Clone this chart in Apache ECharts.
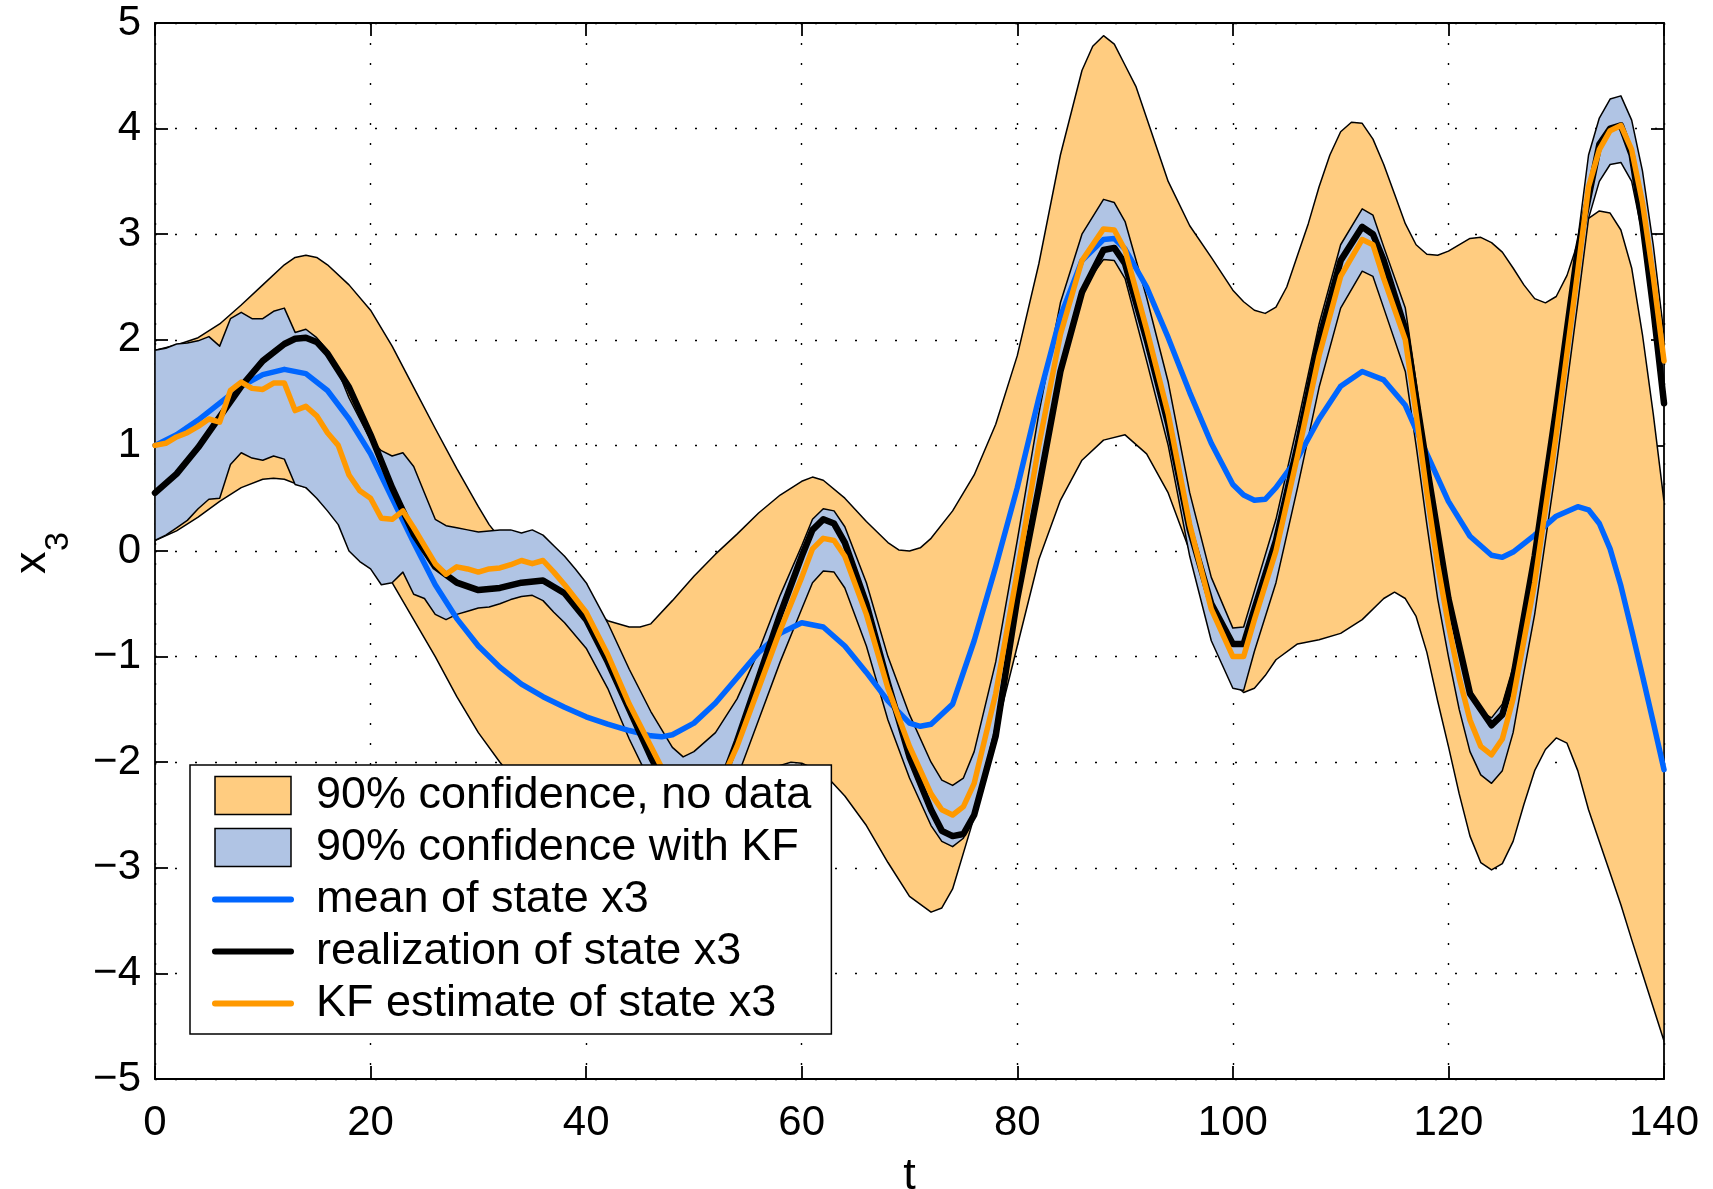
<!DOCTYPE html>
<html>
<head>
<meta charset="utf-8">
<title>x3: KF estimate vs prior</title>
<script src="https://cdn.jsdelivr.net/npm/echarts@6/dist/echarts.min.js"></script>
<style>
  html, body { margin: 0; padding: 0; background: #fff; }
  #chart { width: 1713px; height: 1189px; }
</style>
</head>
<body>
<div id="chart"></div>
<script>
const FONT = '"Liberation Sans", Arial, Helvetica, sans-serif';

// axis ticks
const xTicks = [0, 20, 40, 60, 80, 100, 120, 140];
const yTicks = [-5, -4, -3, -2, -1, 0, 1, 2, 3, 4, 5];

const legendNames = [
  '90% confidence, no data',
  '90% confidence with KF',
  'mean of state x3',
  'realization of state x3',
  'KF estimate of state x3'
];

// 90% band without data, [t, value]
const noDataUpper = [[0,1.90],[2,1.95],[4,2.02],[6,2.15],[8,2.33],[10,2.52],[12,2.71],[13,2.78],[14,2.80],[15,2.78],[16,2.71],[18,2.52],[20,2.28],[22,1.94],[24,1.55],[26,1.16],[28,0.78],[30,0.42],[31,0.25],[32,0.12],[34,0.0],[36,-0.12],[38,-0.32],[40,-0.52],[42,-0.66],[44,-0.72],[45,-0.72],[46,-0.69],[48,-0.47],[50,-0.24],[52,-0.03],[54,0.16],[56,0.36],[58,0.53],[60,0.66],[61,0.70],[62,0.67],[64,0.50],[66,0.28],[68,0.08],[69,0.01],[70,0.0],[71,0.03],[72,0.12],[74,0.38],[76,0.72],[78,1.2],[80,1.85],[82,2.72],[84,3.75],[86,4.55],[87,4.78],[88,4.88],[89,4.8],[90,4.6],[91,4.4],[92,4.1],[93,3.8],[94,3.5],[96,3.08],[98,2.78],[100,2.47],[101,2.36],[102,2.28],[103,2.25],[104,2.31],[105,2.5],[106,2.8],[107,3.1],[108,3.45],[109,3.75],[110,3.97],[111,4.06],[112,4.05],[113,3.9],[114,3.66],[115,3.38],[116,3.1],[117,2.9],[118,2.81],[119,2.80],[120,2.84],[122,2.96],[123,2.97],[124,2.92],[125,2.83],[126,2.68],[127,2.52],[128,2.39],[129,2.35],[130,2.41],[131,2.61],[132,2.92],[133,3.15],[134,3.22],[135,3.2],[136,3.04],[137,2.68],[138,2.05],[139,1.3],[140,0.47]];
const noDataLower = [[0,0.10],[2,0.19],[4,0.32],[6,0.47],[8,0.60],[10,0.68],[11,0.69],[12,0.68],[14,0.60],[16,0.45],[18,0.24],[20,-0.02],[22,-0.3],[24,-0.65],[26,-1.0],[28,-1.38],[30,-1.72],[32,-2.0],[34,-2.25],[36,-2.48],[38,-2.62],[40,-2.7],[42,-2.72],[44,-2.75],[46,-2.8],[48,-2.85],[50,-2.8],[52,-2.62],[54,-2.37],[56,-2.15],[58,-2.03],[59,-2.0],[60,-2.01],[62,-2.1],[64,-2.32],[66,-2.6],[68,-2.95],[70,-3.27],[72,-3.42],[73,-3.38],[74,-3.2],[76,-2.52],[78,-1.72],[80,-0.9],[82,-0.08],[84,0.48],[86,0.86],[88,1.05],[90,1.1],[92,0.92],[94,0.55],[96,0.0],[98,-0.55],[99,-0.95],[100,-1.25],[101,-1.34],[102,-1.3],[103,-1.18],[104,-1.03],[106,-0.88],[108,-0.84],[110,-0.78],[112,-0.65],[114,-0.45],[115,-0.39],[116,-0.45],[117,-0.62],[118,-0.96],[119,-1.42],[120,-1.85],[121,-2.3],[122,-2.7],[123,-2.95],[124,-3.02],[125,-2.96],[126,-2.75],[127,-2.4],[128,-2.08],[129,-1.88],[130,-1.77],[131,-1.82],[132,-2.08],[133,-2.45],[134,-2.75],[135,-3.05],[136,-3.35],[137,-3.68],[138,-4.0],[139,-4.32],[140,-4.64]];

// 90% band with Kalman filter
const kfUpper = [[0,1.9],[1,1.92],[2,1.96],[3,1.97],[4,1.99],[5,2.03],[6,1.94],[7,2.2],[8,2.26],[9,2.2],[10,2.2],[11,2.27],[12,2.3],[13,2.07],[14,2.1],[15,2.02],[16,1.9],[17,1.7],[18,1.45],[19,1.25],[20,1.05],[21,0.95],[22,0.9],[23,0.93],[24,0.8],[25,0.55],[26,0.3],[27,0.24],[28,0.22],[29,0.2],[30,0.18],[31,0.19],[32,0.2],[33,0.2],[34,0.17],[35,0.2],[36,0.15],[37,0.05],[38,-0.05],[39,-0.17],[40,-0.3],[42,-0.68],[44,-1.12],[46,-1.52],[48,-1.86],[49,-1.95],[50,-1.9],[52,-1.72],[54,-1.4],[56,-0.95],[58,-0.42],[60,0.05],[61,0.3],[62,0.4],[63,0.38],[64,0.23],[66,-0.3],[68,-1.0],[70,-1.55],[72,-2.0],[73,-2.17],[74,-2.22],[75,-2.15],[76,-1.9],[78,-1.05],[80,0.1],[82,1.3],[84,2.35],[86,3.0],[88,3.33],[89,3.3],[90,3.12],[92,2.4],[94,1.6],[96,0.55],[98,-0.25],[100,-0.73],[101,-0.72],[102,-0.38],[104,0.3],[106,1.2],[108,2.15],[110,2.9],[112,3.24],[113,3.18],[114,2.88],[116,2.3],[117,1.6],[118,0.85],[119,0.15],[120,-0.4],[121,-0.9],[122,-1.3],[123,-1.52],[124,-1.58],[125,-1.45],[126,-1.1],[127,-0.55],[128,0.0],[130,1.4],[132,2.95],[133,3.75],[134,4.1],[135,4.28],[136,4.31],[137,4.08],[138,3.6],[139,2.9],[140,2.05]];
const kfLower = [[0,0.1],[1,0.15],[2,0.22],[3,0.29],[4,0.4],[5,0.49],[6,0.5],[7,0.82],[8,0.93],[9,0.88],[10,0.86],[11,0.9],[12,0.87],[13,0.63],[14,0.6],[15,0.5],[16,0.38],[17,0.25],[18,0.0],[19,-0.1],[20,-0.17],[21,-0.32],[22,-0.3],[23,-0.2],[24,-0.41],[25,-0.45],[26,-0.6],[27,-0.65],[28,-0.6],[29,-0.57],[30,-0.54],[31,-0.53],[32,-0.5],[33,-0.46],[34,-0.43],[35,-0.42],[36,-0.47],[37,-0.58],[38,-0.68],[39,-0.8],[40,-0.92],[42,-1.3],[44,-1.78],[46,-2.2],[48,-2.6],[50,-2.78],[52,-2.62],[54,-2.15],[56,-1.6],[58,-1.05],[60,-0.55],[61,-0.3],[62,-0.19],[63,-0.2],[64,-0.35],[66,-0.9],[68,-1.6],[70,-2.15],[72,-2.6],[73,-2.75],[74,-2.8],[75,-2.72],[76,-2.5],[78,-1.65],[80,-0.5],[82,0.7],[84,1.75],[86,2.48],[88,2.76],[89,2.75],[90,2.58],[92,1.8],[94,1.0],[96,-0.05],[98,-0.85],[100,-1.3],[101,-1.32],[102,-0.95],[104,-0.3],[106,0.6],[108,1.55],[110,2.3],[112,2.65],[113,2.6],[114,2.3],[116,1.7],[117,1.0],[118,0.25],[119,-0.45],[120,-1.0],[121,-1.5],[122,-1.9],[123,-2.12],[124,-2.2],[125,-2.08],[126,-1.72],[127,-1.15],[128,-0.6],[130,0.8],[132,2.35],[133,3.15],[134,3.5],[135,3.66],[136,3.68],[137,3.5],[138,3.0],[139,2.3],[140,1.45]];

// lines
const meanX3 = [[0,1.0],[2,1.1],[4,1.24],[6,1.4],[8,1.56],[10,1.67],[12,1.72],[14,1.68],[16,1.52],[18,1.25],[20,0.92],[22,0.5],[24,0.08],[26,-0.32],[28,-0.64],[30,-0.9],[32,-1.1],[34,-1.26],[36,-1.38],[38,-1.48],[40,-1.57],[42,-1.64],[44,-1.7],[46,-1.75],[47,-1.76],[48,-1.74],[50,-1.63],[52,-1.44],[54,-1.2],[56,-0.96],[58,-0.78],[60,-0.68],[62,-0.72],[64,-0.9],[66,-1.15],[68,-1.42],[70,-1.63],[71,-1.66],[72,-1.64],[74,-1.45],[76,-0.85],[78,-0.15],[80,0.6],[82,1.45],[84,2.22],[86,2.75],[88,2.95],[89,2.96],[90,2.86],[92,2.5],[94,2.02],[96,1.5],[98,1.02],[100,0.63],[101,0.53],[102,0.48],[103,0.49],[104,0.6],[106,0.88],[108,1.25],[110,1.56],[112,1.7],[114,1.62],[116,1.38],[118,0.92],[120,0.47],[122,0.14],[124,-0.04],[125,-0.06],[126,-0.01],[128,0.15],[130,0.33],[132,0.42],[133,0.39],[134,0.26],[135,0.02],[136,-0.33],[137,-0.75],[138,-1.18],[139,-1.62],[140,-2.07]];
const realX3 = [[0,0.55],[2,0.73],[4,0.98],[6,1.27],[8,1.56],[10,1.8],[12,1.96],[13,2.01],[14,2.02],[15,1.98],[16,1.87],[18,1.55],[20,1.1],[22,0.6],[24,0.16],[26,-0.15],[28,-0.3],[30,-0.37],[32,-0.35],[34,-0.3],[36,-0.28],[38,-0.4],[40,-0.65],[42,-1.05],[44,-1.5],[46,-1.95],[48,-2.35],[50,-2.55],[52,-2.35],[54,-1.8],[56,-1.2],[58,-0.6],[60,-0.05],[61,0.2],[62,0.3],[63,0.26],[64,0.08],[66,-0.5],[68,-1.25],[70,-1.95],[72,-2.45],[73,-2.65],[74,-2.7],[75,-2.68],[76,-2.5],[78,-1.75],[80,-0.45],[82,0.6],[84,1.7],[86,2.45],[88,2.85],[89,2.87],[90,2.72],[92,2.0],[94,1.2],[96,0.2],[98,-0.5],[100,-0.88],[101,-0.88],[102,-0.55],[104,0.1],[106,1.0],[108,2.0],[110,2.75],[112,3.07],[113,3.0],[114,2.75],[116,2.1],[118,0.8],[120,-0.45],[122,-1.35],[124,-1.65],[125,-1.55],[126,-1.2],[128,-0.05],[130,1.35],[132,2.85],[134,3.85],[135,4.0],[136,4.03],[137,3.75],[138,3.1],[139,2.3],[140,1.4]];
const kfEstX3 = [[0,1.0],[1,1.02],[2,1.08],[3,1.12],[4,1.18],[5,1.25],[6,1.22],[7,1.52],[8,1.60],[9,1.54],[10,1.53],[11,1.59],[12,1.59],[13,1.33],[14,1.37],[15,1.28],[16,1.12],[17,1.0],[18,0.72],[19,0.57],[20,0.5],[21,0.31],[22,0.3],[23,0.38],[24,0.22],[25,0.05],[26,-0.12],[27,-0.22],[28,-0.15],[29,-0.17],[30,-0.2],[31,-0.17],[32,-0.16],[33,-0.13],[34,-0.09],[35,-0.12],[36,-0.09],[37,-0.2],[38,-0.32],[39,-0.45],[40,-0.58],[42,-0.98],[44,-1.45],[46,-1.85],[48,-2.25],[50,-2.45],[52,-2.3],[54,-1.85],[56,-1.3],[58,-0.75],[60,-0.25],[61,0.02],[62,0.12],[63,0.1],[64,-0.05],[66,-0.6],[68,-1.3],[70,-1.85],[72,-2.3],[73,-2.45],[74,-2.5],[75,-2.42],[76,-2.2],[78,-1.35],[80,-0.2],[82,1.0],[84,2.05],[86,2.75],[88,3.05],[89,3.04],[90,2.85],[92,2.1],[94,1.3],[96,0.25],[98,-0.55],[100,-1.0],[101,-1.0],[102,-0.65],[104,0.0],[106,0.9],[108,1.85],[110,2.6],[112,2.95],[113,2.9],[114,2.58],[116,2.0],[117,1.3],[118,0.55],[119,-0.13],[120,-0.7],[121,-1.2],[122,-1.6],[123,-1.85],[124,-1.93],[125,-1.78],[126,-1.4],[127,-0.85],[128,-0.3],[130,1.1],[132,2.65],[133,3.45],[134,3.8],[135,3.98],[136,4.03],[137,3.8],[138,3.3],[139,2.6],[140,1.8]];

const ORANGE_FILL = '#FFCC80';
const BLUE_FILL = '#B0C4E4';
const MEAN_BLUE = '#0066FF';
const KF_ORANGE = '#FF9900';

const chart = echarts.init(document.getElementById('chart'), null, { renderer: 'canvas' });

// filled band between two curves, drawn as one polygon with a black edge
function bandSeries(name, upper, lower, fill) {
  return {
    name: name,
    type: 'custom',
    coordinateSystem: 'cartesian2d',
    xAxisIndex: 0,
    yAxisIndex: 0,
    clip: true,
    silent: true,
    itemStyle: { color: fill, borderColor: '#000', borderWidth: 1.5 },
    data: [[0, 0]],
    renderItem: function (params, api) {
      const pts = upper.map(p => api.coord(p))
        .concat(lower.slice().reverse().map(p => api.coord(p)));
      return {
        type: 'polygon',
        shape: { points: pts },
        style: { fill: fill, stroke: '#000', lineWidth: 1.5, lineJoin: 'round' }
      };
    }
  };
}

function lineSeries(name, data, color, width) {
  return {
    name: name,
    type: 'line',
    data: data,
    symbol: 'none',
    showSymbol: false,
    smooth: false,
    silent: true,
    itemStyle: { color: color },
    lineStyle: { color: color, width: width, join: 'round', cap: 'round' }
  };
}

// legend entry for a line: just the stroke, no marker
function lineLegend(name, color) {
  return { name: name, itemStyle: { opacity: 0 }, lineStyle: { color: color, width: 6, opacity: 1 } };
}

const axisLineStyle = { color: '#000', width: 1.8 };
const gridDots = { color: '#000', width: 1.4, type: [2, 18] };

const option = {
  animation: false,
  backgroundColor: '#fff',
  textStyle: { fontFamily: FONT, color: '#000' },
  grid: { left: 155, right: 49, top: 23, bottom: 110, containLabel: false, outerBoundsMode: 'none' },
  xAxis: [
    {
      type: 'value', min: 0, max: 140, interval: 20, position: 'bottom',
      name: 't', nameLocation: 'middle', nameGap: 75,
      nameTextStyle: { fontSize: 45, fontFamily: FONT, color: '#000' },
      axisLine: { show: true, onZero: false, lineStyle: axisLineStyle },
      axisTick: { show: true, inside: true, length: 13, lineStyle: axisLineStyle },
      axisLabel: {
        color: '#000', fontSize: 42, fontFamily: FONT, margin: 23,
        formatter: v => xTicks.includes(v) ? String(v) : ''
      },
      splitLine: { show: true, lineStyle: gridDots }
    },
    {
      type: 'value', min: 0, max: 140, interval: 20, position: 'top',
      axisLine: { show: true, onZero: false, lineStyle: axisLineStyle },
      axisTick: { show: true, inside: true, length: 13, lineStyle: axisLineStyle },
      axisLabel: { show: false },
      splitLine: { show: false }
    }
  ],
  yAxis: [
    {
      type: 'value', min: -5, max: 5, interval: 1, position: 'left',
      axisLine: { show: true, onZero: false, lineStyle: axisLineStyle },
      axisTick: { show: true, inside: true, length: 13, lineStyle: axisLineStyle },
      axisLabel: {
        color: '#000', fontSize: 42, fontFamily: FONT, margin: 14,
        formatter: v => yTicks.includes(v) ? String(v).replace('-', '\u2212') : ''
      },
      splitLine: { show: true, lineStyle: gridDots }
    },
    {
      type: 'value', min: -5, max: 5, interval: 1, position: 'right',
      axisLine: { show: true, onZero: false, lineStyle: axisLineStyle },
      axisTick: { show: true, inside: true, length: 13, lineStyle: axisLineStyle },
      axisLabel: { show: false },
      splitLine: { show: false }
    }
  ],
  legend: {
    orient: 'vertical',
    left: 190,
    top: 765,
    backgroundColor: '#fff',
    borderColor: '#000',
    borderWidth: 1.5,
    borderRadius: 0,
    padding: [8, 20, 8, 22],
    itemGap: 7,
    itemWidth: 76,
    itemHeight: 38,
    selectedMode: false,
    textStyle: { fontSize: 45, fontFamily: FONT, color: '#000', lineHeight: 44, padding: [0, 0, 0, 20] },
    data: [
      { name: legendNames[0], icon: 'rect', itemStyle: { color: ORANGE_FILL, borderColor: '#000', borderWidth: 1.5 } },
      { name: legendNames[1], icon: 'rect', itemStyle: { color: BLUE_FILL, borderColor: '#000', borderWidth: 1.5 } },
      lineLegend(legendNames[2], MEAN_BLUE),
      lineLegend(legendNames[3], '#000'),
      lineLegend(legendNames[4], KF_ORANGE)
    ]
  },
  graphic: [
    {
      // y label "x" with subscript 3, rotated like a MATLAB ylabel
      type: 'group', x: 7, y: 574, rotation: Math.PI / 2,
      children: [
        { type: 'text', x: 0, y: 26, style: { text: 'x', fontSize: 45, fontFamily: FONT, fill: '#000', align: 'left', verticalAlign: 'middle' } },
        { type: 'text', x: 23, y: 52, style: { text: '3', fontSize: 34, fontFamily: FONT, fill: '#000', align: 'left', verticalAlign: 'middle' } }
      ]
    }
  ],
  series: [
    bandSeries(legendNames[0], noDataUpper, noDataLower, ORANGE_FILL),
    bandSeries(legendNames[1], kfUpper, kfLower, BLUE_FILL),
    lineSeries(legendNames[2], meanX3, MEAN_BLUE, 5.5),
    lineSeries(legendNames[3], realX3, '#000', 6.5),
    lineSeries(legendNames[4], kfEstX3, KF_ORANGE, 5.5)
  ]
};

chart.setOption(option);
</script>
</body>
</html>
